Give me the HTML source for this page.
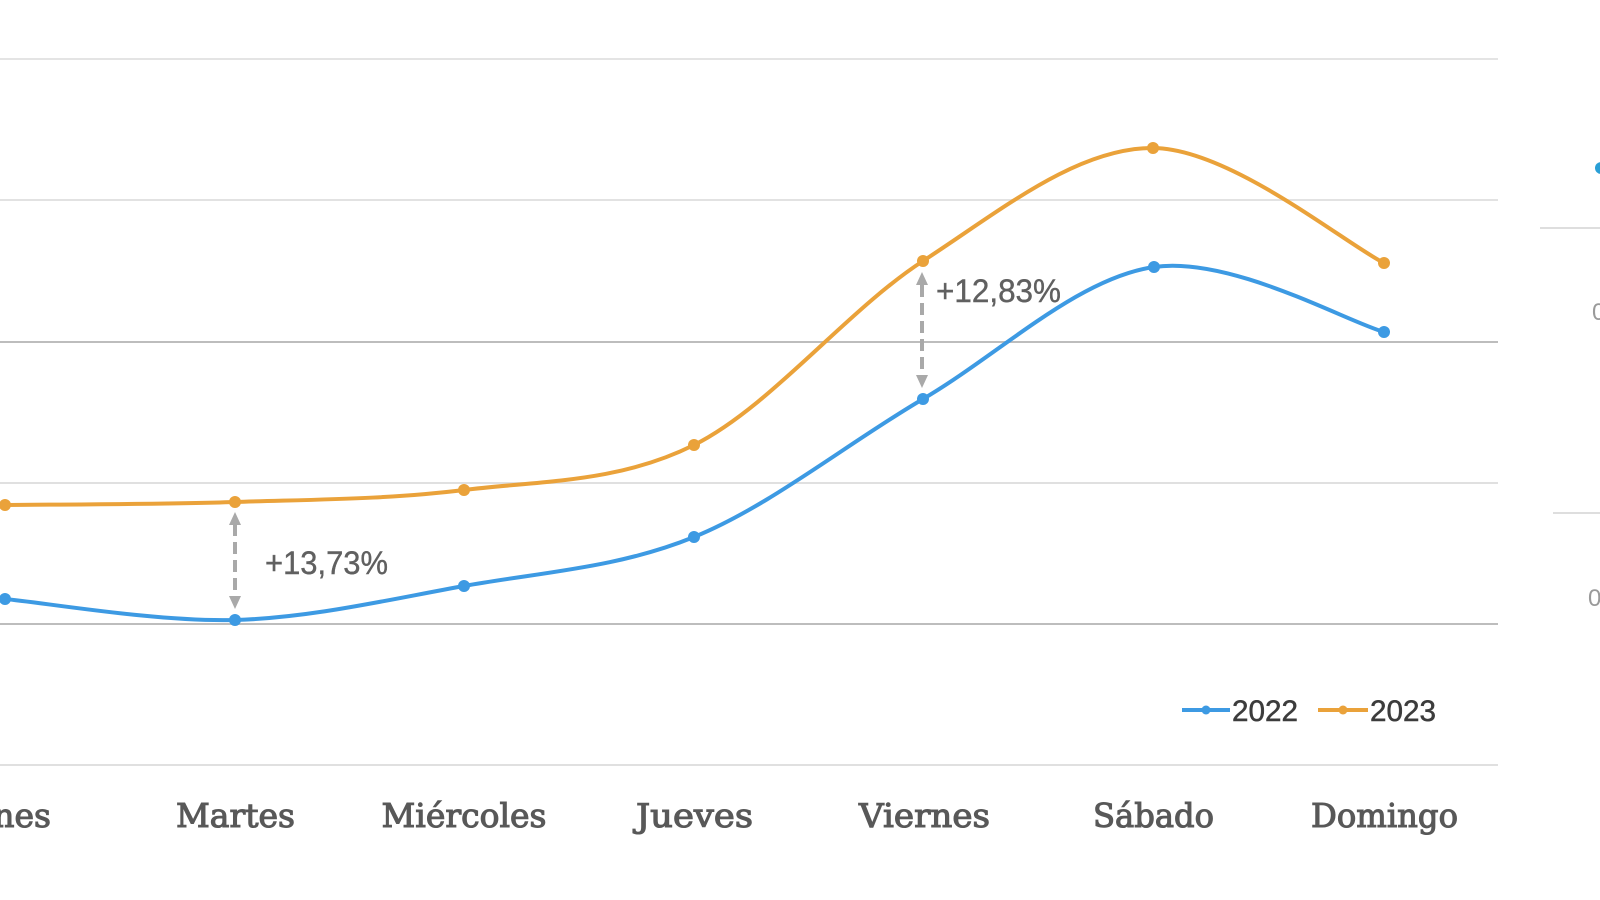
<!DOCTYPE html>
<html>
<head>
<meta charset="utf-8">
<style>
  html, body { margin:0; padding:0; background:#ffffff; }
  body { width:1600px; height:900px; overflow:hidden; }
  svg { display:block; }
</style>
</head>
<body>
<svg width="1600" height="900" viewBox="0 0 1600 900" xmlns="http://www.w3.org/2000/svg">
  <rect width="1600" height="900" fill="#ffffff"/>

  <!-- gridlines -->
  <g stroke-width="2" fill="none">
    <line x1="0" y1="59" x2="1498" y2="59" stroke="#e4e4e4"/>
    <line x1="0" y1="200" x2="1498" y2="200" stroke="#e2e2e2"/>
    <line x1="0" y1="342" x2="1498" y2="342" stroke="#bdbdbd"/>
    <line x1="0" y1="483" x2="1498" y2="483" stroke="#e0e0e0"/>
    <line x1="0" y1="624" x2="1498" y2="624" stroke="#bdbdbd"/>
    <line x1="0" y1="765" x2="1498" y2="765" stroke="#e0e0e0"/>
  </g>

  <!-- right partial panel -->
  <line x1="1540" y1="228" x2="1600" y2="228" stroke="#dedede" stroke-width="2"/>
  <line x1="1553" y1="513" x2="1600" y2="513" stroke="#dedede" stroke-width="2"/>
  <circle cx="1601" cy="168" r="6" fill="#2a9fd6"/>
  <text x="1592" y="320" font-family="Liberation Sans, sans-serif" font-size="24" fill="#9a9a9a">0</text>
  <text x="1588" y="606" font-family="Liberation Sans, sans-serif" font-size="24" fill="#9a9a9a">0</text>

  <!-- series 2023 (orange) -->
  <path d="M5,505 C43.3,504.5 158.5,504.5 235,502 C311.5,499.5 387.5,499.5 464,490 C540.5,480.5 617.5,483.2 694,445 C770.5,406.8 846.5,310.5 923,261 C999.5,211.5 1076.2,147.7 1153,148 C1229.8,148.3 1345.5,243.8 1384,263"
        fill="none" stroke="#eaa23a" stroke-width="4" stroke-linecap="round"/>
  <!-- series 2022 (blue) -->
  <path d="M5,599 C43.3,602.5 158.5,622.2 235,620 C311.5,617.8 387.5,599.8 464,586 C540.5,572.2 617.5,568.2 694,537 C770.5,505.8 846.3,444 923,399 C999.7,354 1077.2,278.2 1154,267 C1230.8,255.8 1345.7,321.2 1384,332"
        fill="none" stroke="#3d9ae3" stroke-width="4" stroke-linecap="round"/>

  <!-- markers -->
  <g fill="#eaa23a">
    <circle cx="5" cy="505" r="6"/>
    <circle cx="235" cy="502" r="6"/>
    <circle cx="464" cy="490" r="6"/>
    <circle cx="694" cy="445" r="6"/>
    <circle cx="923" cy="261" r="6"/>
    <circle cx="1153" cy="148" r="6"/>
    <circle cx="1384" cy="263" r="6"/>
  </g>
  <g fill="#3d9ae3">
    <circle cx="5" cy="599" r="6"/>
    <circle cx="235" cy="620" r="6"/>
    <circle cx="464" cy="586" r="6"/>
    <circle cx="694" cy="537" r="6"/>
    <circle cx="923" cy="399" r="6"/>
    <circle cx="1154" cy="267" r="6"/>
    <circle cx="1384" cy="332" r="6"/>
  </g>

  <!-- annotation arrows -->
  <g stroke="#a9a9a9" stroke-width="4" stroke-dasharray="12 6" fill="none">
    <line x1="235" y1="524" x2="235" y2="597"/>
    <line x1="922" y1="285" x2="922" y2="376"/>
  </g>
  <g fill="#a9a9a9">
    <polygon points="235,512 229,525 241,525"/>
    <polygon points="235,609 229,596 241,596"/>
    <polygon points="922,272 916,285 928,285"/>
    <polygon points="922,388 916,375 928,375"/>
  </g>
  <g font-family="Liberation Sans, sans-serif" font-size="32" fill="#606060" stroke="#606060" stroke-width="0.4">
    <text x="265" y="574" textLength="123" lengthAdjust="spacingAndGlyphs">+13,73%</text>
    <text x="936" y="302" textLength="125" lengthAdjust="spacingAndGlyphs">+12,83%</text>
  </g>

  <!-- legend -->
  <line x1="1182" y1="710" x2="1230" y2="710" stroke="#3d9ae3" stroke-width="4"/>
  <circle cx="1206" cy="710" r="4.5" fill="#3d9ae3"/>
  <line x1="1318" y1="710" x2="1368" y2="710" stroke="#eaa23a" stroke-width="4"/>
  <circle cx="1343" cy="710" r="4.5" fill="#eaa23a"/>
  <g font-family="Liberation Sans, sans-serif" font-size="30" fill="#3c3c3c" stroke="#3c3c3c" stroke-width="0.5">
    <text x="1232" y="721" textLength="66" lengthAdjust="spacingAndGlyphs">2022</text>
    <text x="1370" y="721" textLength="66" lengthAdjust="spacingAndGlyphs">2023</text>
  </g>

  <!-- x-axis labels -->
  <g font-family="DejaVu Serif, Liberation Serif, serif" font-size="33" fill="#585858" stroke="#585858" stroke-width="1.1" text-anchor="middle">
    <text x="51" y="827" text-anchor="end">Lunes</text>
    <text x="235.5" y="827" textLength="119" lengthAdjust="spacingAndGlyphs">Martes</text>
    <text x="464" y="827" textLength="165" lengthAdjust="spacingAndGlyphs">Miércoles</text>
    <text x="694.5" y="827" textLength="117" lengthAdjust="spacingAndGlyphs">Jueves</text>
    <text x="924.5" y="827" textLength="131" lengthAdjust="spacingAndGlyphs">Viernes</text>
    <text x="1153.5" y="827" textLength="121" lengthAdjust="spacingAndGlyphs">Sábado</text>
    <text x="1384.5" y="827" textLength="147" lengthAdjust="spacingAndGlyphs">Domingo</text>
  </g>
</svg>
</body>
</html>
